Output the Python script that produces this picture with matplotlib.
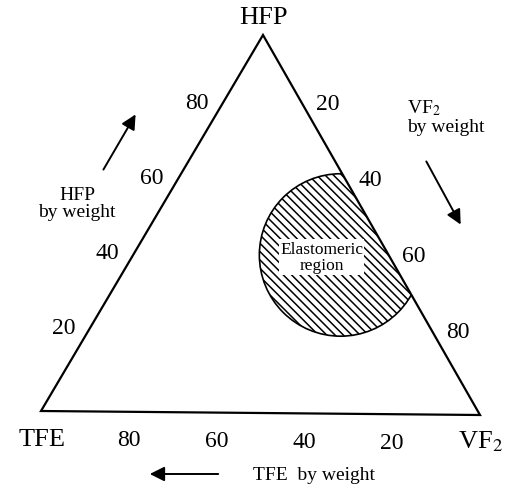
import matplotlib.pyplot as plt
from matplotlib.patches import Circle, Polygon
import numpy as np

plt.rcParams['font.family'] = ['Liberation Serif', 'DejaVu Serif']
plt.rcParams['mathtext.fontset'] = 'stix'
plt.rcParams['hatch.linewidth'] = 1.1

# compositions in wt% : (TFE, VF2, HFP)
tick_values = [20, 40, 60, 80]
region_center = (11, 47, 42)
region_radius = 18.5  # wt%

# where the pure components sit on the page (pixels)
corners_px = np.array([[41, 412], [480, 416], [263, 36]], dtype=float)


def to_xy(tfe, vf2, hfp):
    w = np.array([tfe, vf2, hfp], dtype=float) / 100.0
    return w @ corners_px


fig = plt.figure(figsize=(5.11, 4.89), dpi=100)
ax = fig.add_axes([0, 0, 1, 1])
ax.set_xlim(0, 511)
ax.set_ylim(489, 0)
ax.axis('off')

# triangle
tri_pts = np.array([to_xy(100, 0, 0), to_xy(0, 100, 0), to_xy(0, 0, 100)])
tri = Polygon(tri_pts, closed=True, fill=False, ec='black', lw=1.6, zorder=3)
ax.add_patch(tri)

# elastomeric region, clipped to the triangle
side = np.linalg.norm(tri_pts[1] - tri_pts[0])
cxy = to_xy(*region_center)
circ = Circle(cxy, region_radius / 100 * side, fill=False, hatch='\\\\\\\\',
              ec='black', lw=1.2, zorder=2)
ax.add_patch(circ)
circ.set_clip_path(tri)
ax.text(cxy[0] - 19, cxy[1] + 2, 'Elastomeric\nregion', ha='center', va='center',
        fontsize=12.5, linespacing=1.05, zorder=4,
        bbox=dict(fc='white', ec='none', pad=1))

# tick labels
for v in tick_values:
    x, y = to_xy(100 - v, 0, v)          # HFP on the left edge
    ax.text(x - 22, y - 8, str(v), ha='center', va='center', fontsize=17)
    x, y = to_xy(0, v, 100 - v)          # VF2 on the right edge
    ax.text(x + 21, y - 8, str(v), ha='center', va='center', fontsize=17)
    x, y = to_xy(v, 100 - v, 0)          # TFE along the bottom
    ax.text(x, y + 28, str(v), ha='center', va='center', fontsize=17)

# corner names
ax.text(263, 18, 'HFP', ha='center', va='center', fontsize=19)
ax.text(42, 440, 'TFE', ha='center', va='center', fontsize=19)
ax.text(480, 442, 'VF$_2$', ha='center', va='center', fontsize=19)

# axis captions and arrows
ax.text(77, 204, 'HFP\nby weight', ha='center', va='center', fontsize=14, linespacing=1.0)
ax.text(407, 117, 'VF$_2$\nby weight', ha='left', va='center', fontsize=14, linespacing=1.1)
ax.text(314, 475, 'TFE  by weight', ha='center', va='center', fontsize=14)

arw = dict(arrowstyle='-|>', mutation_scale=22, lw=1.4, color='black')
ax.annotate('', xy=(137, 113), xytext=(102, 173), arrowprops=arw)
ax.annotate('', xy=(462, 228), xytext=(425, 160), arrowprops=arw)
ax.annotate('', xy=(147, 475), xytext=(221, 475), arrowprops=arw)

fig.savefig('out.png', dpi=100)
